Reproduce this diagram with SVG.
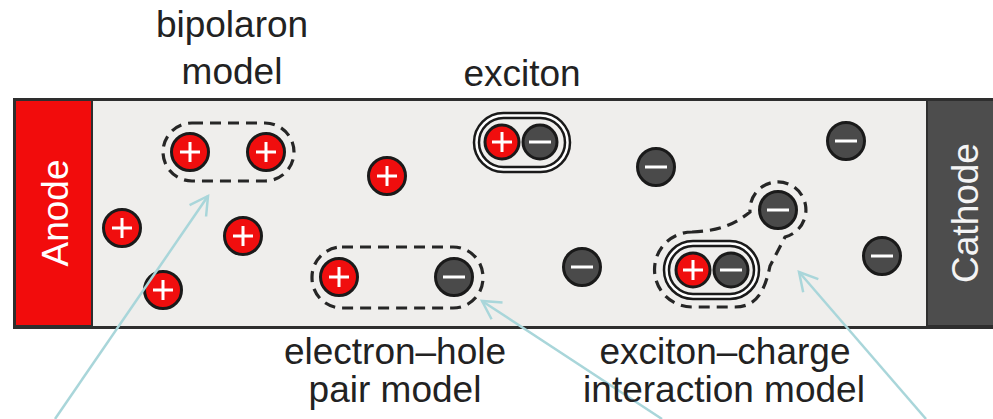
<svg xmlns="http://www.w3.org/2000/svg" width="993" height="419" viewBox="0 0 993 419">
<defs>
<style>
.lbl{font-family:"Liberation Sans",Arial,sans-serif;font-size:37px;fill:#222;text-anchor:middle}
.elec{font-family:"Liberation Sans",Arial,sans-serif;font-size:37px;fill:#fff;text-anchor:middle}
.hole{fill:#f00e0e;stroke:#1a1a1a;stroke-width:3}
.el{fill:#4a4a4a;stroke:#1a1a1a;stroke-width:3}
.sign{stroke:#fff;stroke-width:3;fill:none}
.dash{fill:none;stroke:#262626;stroke-width:3.2;stroke-dasharray:11 7}
.solidO{fill:none;stroke:#1a1a1a;stroke-width:7.5}
.solidI{fill:none;stroke:#fff;stroke-width:2.5}
.arrow{fill:none;stroke:#a9d6da;stroke-width:2.5;marker-end:url(#ah)}
</style>
<marker id="ah" markerUnits="userSpaceOnUse" markerWidth="30" markerHeight="30" refX="20" refY="15" orient="auto">
<path d="M2,5 L20,15 L2,25" fill="none" stroke="#a9d6da" stroke-width="2.5"/>
</marker>
<g id="plus"><circle class="hole" r="18.5"/><path class="sign" d="M-10,0H10M0,-10V10"/></g>
<g id="minus"><circle class="el" r="18.5"/><path class="sign" d="M-11,0H11"/></g>
<g id="plusS"><circle class="hole" r="17"/><path class="sign" d="M-10,0H10M0,-10V10"/></g>
<g id="minusS"><circle class="el" r="17"/><path class="sign" d="M-11,0H11"/></g>
</defs>
<rect x="0" y="0" width="993" height="419" fill="#fff"/>
<g id="device">
<rect x="14.5" y="99.5" width="990" height="228" fill="#efeeec" stroke="#2e2e2e" stroke-width="3"/>
<rect id="anode" x="15" y="100" width="77" height="226" fill="#f20c0c" stroke="#2e2e2e" stroke-width="2"/>
<rect id="cathode" x="927" y="100" width="70" height="226" fill="#4d4d4d" stroke="#2e2e2e" stroke-width="2"/>
<text class="elec" transform="translate(68,213) rotate(-90)">Anode</text>
<text class="elec" transform="translate(978,213) rotate(-90)" style="fill:#f4f4f4">Cathode</text>
</g>
<g id="bipolaron">
<rect class="dash" x="163" y="123" width="131" height="58" rx="29"/>
<use href="#plus" x="190" y="152"/>
<use href="#plus" x="266" y="152"/>
</g>
<g id="holes">
<use href="#plus" x="122" y="228"/>
<use href="#plus" x="243" y="236"/>
<use href="#plus" x="163" y="290"/>
<use href="#plus" x="387" y="176"/>
</g>
<g id="electrons">
<use href="#minus" x="582" y="267"/>
<use href="#minus" x="656" y="167"/>
<use href="#minus" x="846" y="141"/>
<use href="#minus" x="882" y="256"/>
</g>
<g id="exciton">
<rect class="solidO" x="476.5" y="115.5" width="91" height="54" rx="27"/>
<rect class="solidI" x="476.5" y="115.5" width="91" height="54" rx="27"/>
<use href="#plusS" x="502" y="142"/>
<use href="#minusS" x="540" y="142"/>
</g>
<g id="eh-pair">
<rect class="dash" x="312" y="247" width="171" height="61" rx="30"/>
<use href="#plus" x="339" y="277"/>
<use href="#minus" x="454" y="277"/>
</g>
<g id="exciton-charge">
<path class="dash" d="M692,232 C718,231 734,225 750,212 A28,28 0 1 1 785,237 L770,266 C765,290 757,307 735,307 L692,307 A37.5,37.5 0 0 1 692,232 Z"/>
<rect class="solidO" x="666.5" y="243.5" width="90" height="53" rx="26.5"/>
<rect class="solidI" x="666.5" y="243.5" width="90" height="53" rx="26.5"/>
<use href="#plusS" x="693" y="270"/>
<use href="#minusS" x="731" y="270"/>
<use href="#minus" x="778" y="210"/>
</g>
<g id="connectors">
<line class="arrow" x1="55" y1="419" x2="208" y2="196"/>
<line class="arrow" x1="662" y1="419" x2="482" y2="301"/>
<line class="arrow" x1="926" y1="419" x2="799" y2="272"/>
</g>
<g id="labels">
<text class="lbl" x="232" y="37">bipolaron</text>
<text class="lbl" x="232" y="84">model</text>
<text class="lbl" x="522" y="86">exciton</text>
<text class="lbl" x="395" y="364">electron–hole</text>
<text class="lbl" x="395" y="402">pair model</text>
<text class="lbl" x="725" y="364">exciton–charge</text>
<text class="lbl" x="724" y="402">interaction model</text>
</g>
</svg>
